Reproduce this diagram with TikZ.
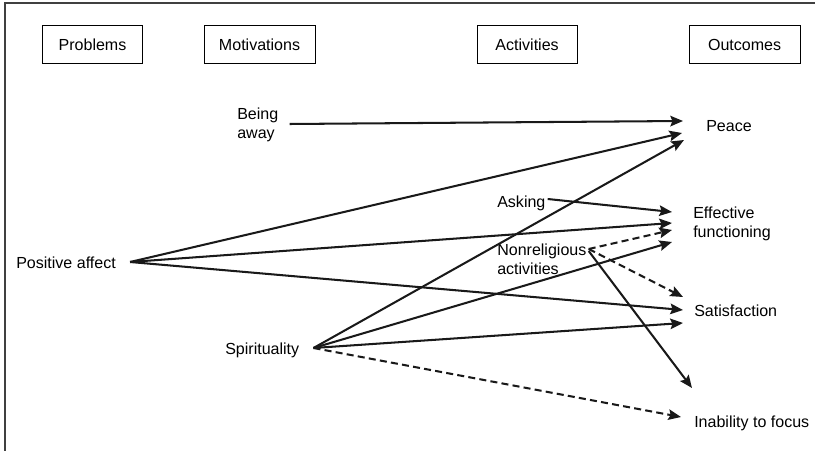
\documentclass[tikz,border=0pt]{standalone}
\usepackage{fontspec}
\setmainfont{Liberation Sans}
\usetikzlibrary{arrows.meta, positioning, calc}

\newcommand{\labfont}{\fontsize{11.4}{13.5}\selectfont}

\begin{document}
\begin{tikzpicture}[
    x=0.025cm, y=-0.025cm,
    hdr/.style={rectangle, draw, line width=0.7pt, minimum height=0.925cm, align=center, font=\labfont},
    lbl/.style={anchor=west, inner sep=0pt, align=left, font=\labfont},
    arrow/.style={-{Stealth[length=9pt, width=7.5pt, inset=1.5pt]}, line width=1.45pt, black!90},
    dasharrow/.style={arrow, dash pattern=on 5pt off 3pt}
]
    \useasboundingbox (0,0) rectangle (815,451);
    \draw[line width=1pt, black!75] (5,451) -- (5,3) -- (815,3);

    % Column heads
    \node[hdr, minimum width=2.475cm] (problems) at (92.5,44.5) {Problems};
    \node[hdr, minimum width=2.775cm, right=1.525cm of problems] (motiv) {Motivations};
    \node[hdr, minimum width=2.5cm, right=4.025cm of motiv] (activ) {Activities};
    \node[hdr, minimum width=2.775cm, right=2.775cm of activ] (outcomes) {Outcomes};

    % Problems and motivations
    \node[lbl] (away) at (237,125) {Being\\away};
    \node[lbl] (posaff) at (16,263) {Positive affect};
    \node[lbl] (spirit) at (225,350) {Spirituality};

    % Activities
    \node[lbl] (asking) at (497,203) {Asking};
    \node[lbl] (nonrel) at (497,259) {Nonreligious\\activities};

    % Outcomes
    \node[lbl] (peace) at (706,126) {Peace};
    \node[lbl] (effect) at (693,224) {Effective\\functioning};
    \node[lbl] (satisf) at (694,311) {Satisfaction};
    \node[lbl] (inab) at (694,423) {Inability to focus};

    % Arrows
    \draw[arrow] ($(away.east)+(11,-1)$) -- ($(peace.west)+(-23,-5)$);

    \draw[arrow] ($(posaff.east)+(14,-1)$) -- ($(peace.west)+(-24,7)$);
    \draw[arrow] ($(posaff.east)+(14,-1)$) -- ($(effect.west)+(-21,-1)$);
    \draw[arrow] ($(posaff.east)+(14,-1)$) -- ($(satisf.west)+(-11,-1)$);

    \draw[arrow] ($(spirit.east)+(14,-2)$) -- ($(peace.west)+(-22,14)$);
    \draw[arrow] ($(spirit.east)+(14,-2)$) -- ($(effect.west)+(-21,18)$);
    \draw[arrow] ($(spirit.east)+(14,-2)$) -- ($(satisf.west)+(-11,12)$);
    \draw[dasharrow] ($(spirit.east)+(14,-2)$) -- ($(inab.west)+(-13,-6)$);

    \draw[arrow] ($(asking.east)+(2,-4)$) -- ($(effect.west)+(-21,-12)$);

    \draw[dasharrow] ($(nonrel.east)+(2,-10)$) -- ($(effect.west)+(-21,6)$);
    \draw[dasharrow] ($(nonrel.east)+(2,-10)$) -- ($(satisf.west)+(-11,-14)$);
    \draw[arrow] ($(nonrel.east)+(2,-8)$) -- ($(inab.west)+(-2,-35)$);

\end{tikzpicture}
\end{document}
